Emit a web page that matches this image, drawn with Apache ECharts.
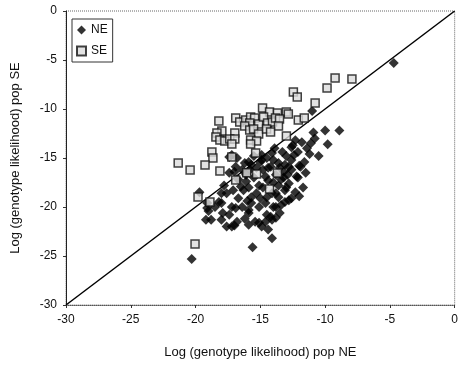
<!DOCTYPE html>
<html>
<head>
<meta charset="utf-8">
<script src="https://cdn.jsdelivr.net/npm/echarts@6/dist/echarts.min.js"></script>
<style>
html,body{margin:0;padding:0;background:#fff;}
#chart{width:461px;height:367px;}
</style>
</head>
<body>
<div id="chart"></div>
<script>
// Axis ticks
var xTicks = [-30, -25, -20, -15, -10, -5, 0];
var yTicks = [-30, -25, -20, -15, -10, -5, 0];

// Population NE (x: log likelihood NE, y: log likelihood SE)
var neData = [
  [-4.7,-5.3],[-11.0,-10.2],[-10.0,-12.2],[-8.9,-12.2],[-9.8,-13.6],[-10.5,-14.8],[-10.8,-13.0],
  [-11.1,-13.5],[-11.8,-13.4],[-11.4,-14.0],[-12.1,-14.4],[-12.6,-13.9],[-13.3,-14.4],[-14.1,-14.5],
  [-11.6,-15.4],[-11.9,-15.9],[-12.2,-16.9],[-12.6,-16.2],[-12.8,-17.6],[-13.2,-17.0],[-12.6,-19.1],
  [-13.1,-19.5],[-13.6,-19.0],[-14.0,-20.0],[-14.2,-21.0],[-14.6,-21.5],[-14.8,-18.0],[-15.0,-15.4],
  [-14.2,-15.9],[-14.6,-16.9],[-19.7,-18.5],[-19.1,-19.6],[-19.2,-21.3],[-18.0,-21.3],[-17.2,-22.0],
  [-17.6,-18.6],[-18.0,-19.6],[-16.9,-20.1],[-17.4,-20.8],[-17.2,-14.7],[-17.4,-16.5],[-16.1,-17.4],
  [-15.7,-19.0],[-15.9,-20.3],[-15.4,-21.5],[-14.4,-22.3],[-13.8,-21.1],[-14.6,-19.6],[-14.1,-18.6],
  [-13.1,-18.3],[-13.4,-19.8],[-15.6,-24.1],[-16.4,-16.2],[-15.7,-15.7],[-14.9,-15.2],[-14.4,-16.0],
  [-13.6,-15.5],[-12.8,-15.9],[-15.9,-18.0],[-15.3,-18.6],[-15.1,-20.0],[-14.5,-20.8],[-14.1,-23.2],
  [-16.8,-21.5],[-17.6,-22.0],[-20.3,-25.3],[-19.0,-20.4],[-17.0,-21.9],[-17.2,-20.0],[-15.9,-21.8],
  [-15.1,-21.6],[-15.7,-19.6],[-13.8,-20.0],[-16.8,-15.0],[-17.0,-16.4],[-15.9,-15.4],[-14.9,-14.7],
  [-14.0,-15.2],[-12.3,-13.2],[-12.6,-15.2],[-13.1,-15.7],[-13.4,-17.2],[-13.8,-18.6],[-12.3,-18.5],
  [-11.7,-18.0],[-16.4,-20.0],[-15.9,-20.6],[-14.1,-21.3],[-18.8,-21.3],[-18.2,-19.5],[-19.1,-20.1],
  [-14.8,-16.2],[-15.5,-17.0],[-16.3,-18.3],[-13.6,-17.8],[-15.1,-17.8],[-16.7,-19.1],[-13.2,-16.4],
  [-15.3,-16.0],[-13.8,-16.7],[-16.1,-16.7],[-14.5,-19.0],[-16.7,-17.2],[-12.5,-13.7],[-12.8,-19.3],
  [-12.1,-17.0],[-17.4,-14.9],[-16.9,-15.9],[-10.9,-12.4],[-18.0,-18.6],
  [-13.0,-14.8],[-12.4,-14.7],[-11.2,-14.6],[-13.9,-14.0],[-14.5,-15.0],[-15.5,-14.8],[-16.2,-15.5],
  [-13.5,-16.0],[-14.0,-17.5],[-14.4,-17.3],[-15.8,-16.2],[-16.5,-17.9],[-16.0,-19.4],[-17.8,-17.8],
  [-17.1,-18.3],[-15.0,-19.1],[-13.0,-18.0],[-12.0,-18.9],[-14.9,-22.0],[-16.2,-21.2],[-17.9,-20.6],
  [-18.5,-20.0],[-13.5,-20.6],[-12.9,-16.7],[-11.5,-16.5],[-12.0,-15.8]
];

// Population SE
var seData = [
  [-12.45,-8.27],[-12.15,-8.78],[-14.83,-9.9],[-14.29,-10.31],[-13.68,-10.41],[-12.99,-10.31],
  [-12.84,-10.51],[-12.07,-11.12],[-11.61,-10.92],[-16.90,-10.92],[-16.59,-11.33],[-16.13,-11.12],
  [-15.75,-10.82],[-15.44,-10.92],[-15.82,-11.43],[-15.13,-11.53],[-14.75,-10.82],[-14.44,-11.43],
  [-14.06,-11.33],[-13.83,-10.92],[-13.52,-11.02],[-13.60,-11.73],[-18.20,-11.22],[-16.21,-11.73],
  [-15.82,-12.14],[-15.52,-12.04],[-15.13,-12.55],[-14.52,-12.04],[-14.21,-12.35],[-17.97,-12.24],
  [-18.35,-12.45],[-16.97,-12.45],[-18.43,-12.86],[-18.12,-13.16],[-17.74,-13.27],[-17.36,-13.06],
  [-16.97,-13.06],[-17.20,-13.57],[-15.75,-13.16],[-15.29,-13.27],[-15.75,-13.57],[-18.74,-14.39],
  [-18.66,-15.0],[-17.20,-14.90],[-15.36,-14.49],[-21.34,-15.51],[-20.42,-16.22],[-19.27,-15.71],
  [-18.12,-16.33],[-12.99,-12.76],[-9.23,-6.84],[-7.93,-6.94],[-9.85,-7.86],[-10.77,-9.39],
  [-16.05,-16.5],[-15.29,-16.63],[-13.68,-16.53],[-14.29,-18.16],[-16.90,-17.24],[-19.81,-18.98],
  [-18.89,-19.49],[-20.04,-23.78]
];

// Equality line
var diagData = [[-30,-30],[0,0]];

var font = '"Liberation Sans", Arial, sans-serif';
var chart = echarts.init(document.getElementById('chart'), null, {renderer:'canvas'});
chart.setOption({
  animation: false,
  backgroundColor: '#fff',
  textStyle: {fontFamily: font},
  grid: {left: 66, right: 4, top: 11, bottom: 62, show: true, borderColor: '#666', borderWidth: 1, borderType: 'dotted'},
  legend: {
    orient: 'vertical', left: 72, top: 19,
    borderColor: '#333', borderWidth: 1, padding: [5, 5, 5, 4],
    itemWidth: 9, itemHeight: 9, itemGap: 9,
    textStyle: {fontSize: 12, color: '#111', fontFamily: font},
    data: [
      {name: 'NE', icon: 'diamond'},
      {name: 'SE', icon: 'rect'}
    ]
  },
  xAxis: {
    type: 'value', min: -30, max: 0, interval: 5,
    name: 'Log (genotype likelihood) pop NE', nameLocation: 'middle', nameGap: 41,
    nameTextStyle: {fontSize: 13, color: '#111', fontFamily: font},
    axisLine: {show: true, onZero: false, lineStyle: {color: '#555', width: 1, type: 'dotted'}},
    axisTick: {show: true, length: 3, inside: false, lineStyle: {color: '#333'}},
    axisLabel: {fontSize: 12, color: '#111', margin: 9, fontFamily: font},
    splitLine: {show: false}
  },
  yAxis: {
    type: 'value', min: -30, max: 0, interval: 5,
    name: 'Log (genotype likelihood) pop SE', nameLocation: 'middle', nameGap: 44,
    nameTextStyle: {fontSize: 13, color: '#111', fontFamily: font},
    axisLine: {show: true, onZero: false, lineStyle: {color: '#222', width: 1}},
    axisTick: {show: true, length: 3, lineStyle: {color: '#333'}},
    axisLabel: {fontSize: 12, color: '#111', margin: 9, fontFamily: font},
    splitLine: {show: false}
  },
  series: [
    {
      name: 'diag', type: 'line', data: diagData, symbol: 'none', silent: true,
      lineStyle: {color: '#000', width: 1.5}, z: 1
    },
    {
      name: 'NE', type: 'scatter', data: neData, symbol: 'diamond', symbolSize: 10,
      itemStyle: {color: '#000'}, z: 2
    },
    {
      name: 'SE', type: 'scatter', data: seData, symbol: 'rect', symbolSize: 8,
      itemStyle: {color: '#dcdcdc', borderColor: '#111', borderWidth: 1.5}, z: 3
    }
  ]
});
</script>
</body>
</html>
